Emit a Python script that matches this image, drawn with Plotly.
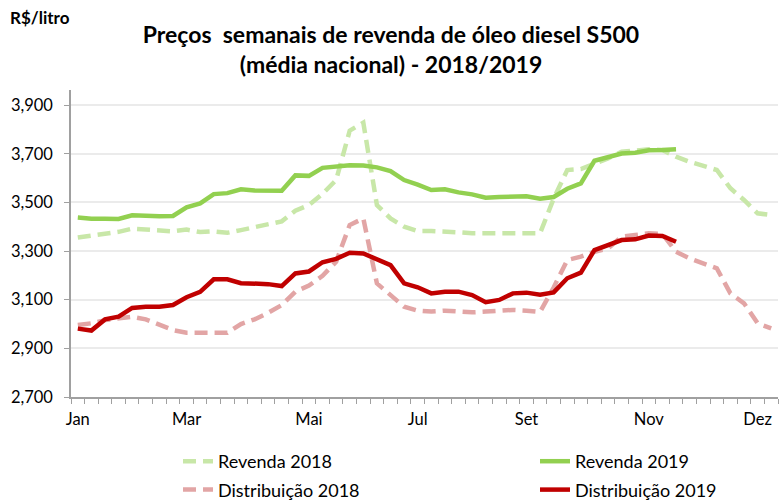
import plotly.graph_objects as go

weeks = list(range(52))

revenda_2018 = [3356, 3364, 3373, 3379, 3392, 3389, 3386, 3381, 3388, 3378,
                3381, 3375, 3386, 3397, 3408, 3422, 3466, 3489, 3535, 3592,
                3795, 3828, 3489, 3434, 3400, 3382, 3382, 3381, 3377, 3373,
                3373, 3373, 3370, 3370, 3373, 3515, 3633, 3637, 3658, 3681,
                3708, 3715, 3718, 3715, 3688, 3667, 3649, 3633, 3558, 3510,
                3455, 3448]

revenda_2019 = [3438, 3433, 3433, 3432, 3447, 3444, 3443, 3444, 3480, 3496,
                3534, 3538, 3554, 3549, 3549, 3548, 3611, 3609, 3642, 3649,
                3653, 3652, 3644, 3629, 3592, 3573, 3551, 3554, 3541, 3533,
                3519, 3522, 3523, 3525, 3515, 3522, 3556, 3578, 3671, 3688,
                3701, 3704, 3714, 3715, 3718]

distribuicao_2018 = [2996, 3003, 3016, 3023, 3030, 3019, 2996, 2975, 2964, 2964,
                     2964, 2964, 3000, 3019, 3046, 3078, 3133, 3158, 3198, 3256,
                     3407, 3434, 3167, 3119, 3071, 3055, 3051, 3055, 3051, 3048,
                     3051, 3055, 3058, 3055, 3050, 3150, 3263, 3277, 3297, 3311,
                     3359, 3366, 3373, 3370, 3297, 3270, 3250, 3229, 3126, 3085,
                     3003, 2982]

distribuicao_2019 = [2981, 2973, 3019, 3030, 3066, 3071, 3071, 3078, 3110, 3132,
                     3184, 3184, 3168, 3167, 3164, 3156, 3208, 3216, 3254, 3268,
                     3293, 3290, 3266, 3242, 3167, 3151, 3126, 3133, 3133, 3119,
                     3090, 3099, 3126, 3129, 3120, 3130, 3188, 3211, 3304, 3325,
                     3345, 3348, 3364, 3362, 3338]

month_ticks = [0, 8, 17, 25, 33, 42, 50]
month_labels = ["Jan", "Mar", "Mai", "Jul", "Set", "Nov", "Dez"]
y_ticks = [2700, 2900, 3100, 3300, 3500, 3700, 3900]
y_labels = ["2,700", "2,900", "3,100", "3,300", "3,500", "3,700", "3,900"]

FONT = "Lato"
DASH = "13px,7px"
fig = go.Figure()

fig.add_trace(go.Scatter(x=weeks[:len(revenda_2018)], y=revenda_2018, mode="lines",
                         name="Revenda 2018", legend="legend", legendgroup="r18",
                         line=dict(color="#C8E7A8", width=4.5, dash=DASH)))
fig.add_trace(go.Scatter(x=weeks[:len(revenda_2019)], y=revenda_2019, mode="lines",
                         name="Revenda 2019", legend="legend2", legendgroup="r19",
                         line=dict(color="#92D050", width=4.5)))
fig.add_trace(go.Scatter(x=weeks[:len(distribuicao_2018)], y=distribuicao_2018, mode="lines",
                         name="Distribuição 2018", legend="legend", legendgroup="d18",
                         line=dict(color="#E2A5A5", width=4.5, dash=DASH)))
fig.add_trace(go.Scatter(x=weeks[:len(distribuicao_2019)], y=distribuicao_2019, mode="lines",
                         name="Distribuição 2019", legend="legend2", legendgroup="d19",
                         line=dict(color="#C00000", width=4.5)))

legend_common = dict(orientation="v", xref="container", yref="container",
                     xanchor="left", yanchor="top", y=1 - 443 / 500,
                     traceorder="grouped", tracegroupgap=2,
                     font=dict(family=FONT, size=18, color="#000000"),
                     bgcolor="rgba(0,0,0,0)", borderwidth=0)

fig.update_layout(
    template="none",
    width=782, height=500,
    margin=dict(l=71, r=4, t=90, b=103, autoexpand=False),
    paper_bgcolor="white", plot_bgcolor="white",
    font=dict(family=FONT, size=16.5, color="#000000"),
    title=dict(text="<b>Preços  semanais de revenda de óleo diesel S500<br>(média nacional) - 2018/2019</b>",
               x=0.5, xref="container", xanchor="center", y=1 - 43 / 500, yref="container",
               yanchor="middle", font=dict(family=FONT, size=23, color="#000000")),
    xaxis=dict(range=[-0.5, 51.5], tickmode="array", tickvals=month_ticks, ticktext=month_labels,
               ticks="", showgrid=False, zeroline=False, showline=True, linecolor="#A0A0A0",
               linewidth=1.5, tickfont=dict(family=FONT, size=16.5, color="#000000"),
               ticklabelstandoff=6,
               minor=dict(tickmode="linear", tick0=-0.5, dtick=1, ticks="outside", ticklen=5,
                          tickcolor="#A0A0A0", tickwidth=1, showgrid=False),
               automargin=False, fixedrange=True),
    yaxis=dict(range=[2700, 3962], tickmode="array", tickvals=y_ticks, ticktext=y_labels,
               ticks="outside", ticklen=5, tickcolor="#A0A0A0", tickwidth=1,
               showgrid=True, gridcolor="#EBEBEB", gridwidth=1.5, zeroline=False,
               showline=True, linecolor="#A0A0A0", linewidth=1.5,
               tickfont=dict(family=FONT, size=16.5, color="#000000"),
               ticklabelstandoff=8,
               automargin=False, fixedrange=True),
    legend=dict(x=178 / 782, **legend_common),
    legend2=dict(x=535 / 782, **legend_common),
    annotations=[dict(text="<b>R$/litro</b>", xref="paper", yref="paper",
                      x=(8 - 71) / 707, y=1 + (90 - 18) / 307, xanchor="left", yanchor="middle",
                      showarrow=False, font=dict(family=FONT, size=17, color="#000000"))],
    showlegend=True,
)

fig.write_html("out.html", config={"displayModeBar": False},
               post_script="document.body.style.margin='0px';document.body.style.overflow='hidden';")
